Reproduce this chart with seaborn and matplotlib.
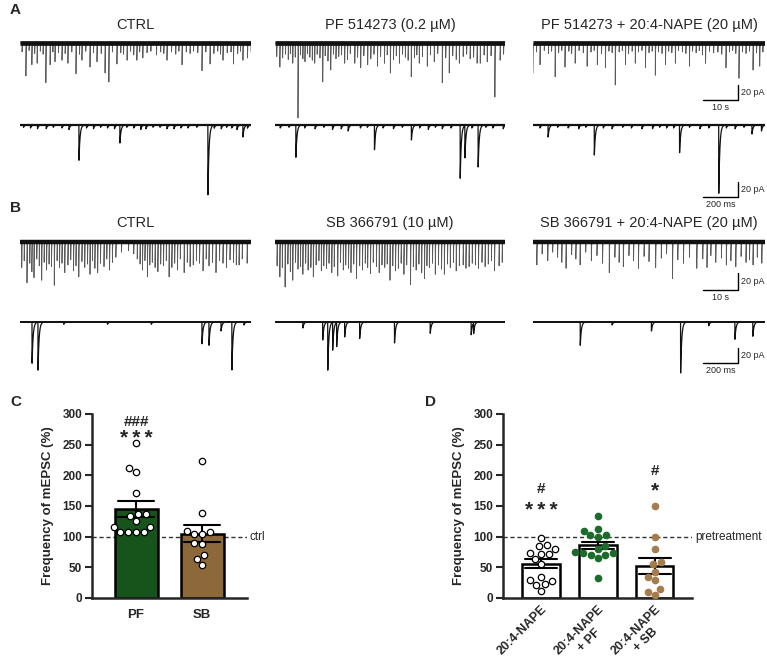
import numpy as np
import pandas as pd
import seaborn as sns
import matplotlib
matplotlib.use('Agg')
import matplotlib.pyplot as plt

# ---------------- dati: tracce (eventi = tempo, ampiezza in pA) ----------------
# riga A, tracce lunghe (s)
a_ctrl_long_t = [0.6, 1.7, 2.6, 3.4, 4.2, 4.9, 5.8, 6.6, 7.4, 8.6, 9.4, 10.0, 11.0, 12.0, 12.9, 13.7, 14.8, 16.0, 17.0, 17.7,
                 18.8, 20.0, 21.0, 22.0, 23.2, 24.3, 25.4, 26.4, 27.7, 28.8, 29.6, 30.6, 31.6, 32.5, 33.4, 34.2, 35.1, 36.3, 37.4, 39.0,
                 40.2, 41.1, 42.0, 43.3, 44.5, 45.4, 46.3, 47.5, 48.6, 49.6, 50.8, 52.0, 53.1, 54.3, 55.4, 56.5, 57.3, 58.0, 59.2, 60.3,
                 61.0, 62.2, 63.0, 63.7, 65.0, 66.0]
a_ctrl_long_a = [12, 44, 10, 29, 14, 27, 11, 15, 53, 29, 12, 25, 13, 23, 14, 27, 12, 41, 15, 23,
                 11, 32, 13, 25, 14, 40, 52, 12, 28, 13, 15, 23, 11, 16, 23, 12, 20, 13, 11, 16,
                 12, 14, 23, 12, 15, 11, 29, 12, 14, 11, 13, 37, 12, 28, 14, 11, 15, 23, 13, 12,
                 28, 14, 11, 23, 20, 12]
a_pf_long_t = [0.5, 1.4, 2.2, 3.0, 3.8, 4.4, 5.1, 5.8, 6.6, 7.3, 8.0, 8.6, 9.3, 10.0, 10.7, 11.4, 12.1, 12.9, 13.7, 14.4,
               15.2, 16.0, 16.8, 17.5, 18.3, 19.1, 20.0, 20.8, 21.6, 22.9, 23.7, 24.6, 25.5, 26.6, 27.5, 28.4, 29.4, 30.3, 31.4, 32.2,
               33.1, 34.0, 34.8, 35.7, 36.6, 37.4, 38.2, 39.1, 40.0, 40.7, 41.4, 42.3, 43.7, 44.6, 45.7, 46.7, 48.0, 49.0, 50.0, 51.0,
               52.0, 52.9, 54.0, 55.0, 56.0, 57.0, 58.0, 58.9, 60.0, 60.9, 62.0, 63.1, 64.6, 65.6]
a_pf_long_a = [18, 32, 20, 15, 22, 14, 27, 19, 100, 16, 21, 25, 14, 19, 23, 27, 15, 20, 52, 17,
               24, 36, 15, 21, 18, 16, 27, 22, 14, 27, 19, 33, 17, 29, 21, 15, 31, 18, 27, 16,
               40, 22, 17, 27, 15, 19, 23, 45, 20, 16, 27, 18, 31, 16, 25, 14, 53, 20, 40, 17,
               22, 27, 18, 15, 21, 19, 27, 27, 16, 25, 17, 72, 23, 15]
a_nape_long_t = [0.0, 1.0, 2.0, 3.2, 4.4, 5.3, 6.3, 7.3, 8.2, 9.1, 10.2, 11.0, 12.0, 13.1, 14.3, 15.4, 16.5, 17.4, 18.3, 19.5,
                 20.6, 21.6, 22.5, 23.4, 24.5, 25.4, 26.3, 27.2, 28.2, 29.1, 30.0, 31.0, 32.0, 33.0, 33.9, 34.8, 35.7, 36.7, 37.7, 38.6,
                 39.5, 40.5, 41.4, 42.5, 43.5, 44.5, 45.4, 46.4, 47.3, 48.2, 49.1, 50.2, 51.4, 52.6, 53.7, 54.9, 55.9, 56.8, 57.7, 58.6,
                 59.6, 60.6, 61.6, 62.6, 63.6, 64.5, 65.4]
a_nape_long_a = [40, 12, 29, 10, 14, 11, 45, 13, 10, 32, 11, 14, 27, 10, 13, 31, 12, 10, 29, 14,
                 33, 11, 13, 56, 12, 10, 29, 14, 11, 27, 12, 10, 33, 13, 11, 43, 12, 14, 29, 11,
                 13, 27, 10, 12, 14, 31, 11, 13, 10, 16, 27, 11, 13, 12, 15, 33, 12, 10, 14, 47,
                 12, 14, 11, 36, 13, 31, 12]

# riga A, tracce corte (ms)
a_ctrl_short_t = [20, 60, 100, 150, 190, 240, 280, 337, 380, 420, 460, 500, 540, 571, 610, 650, 690, 720, 760, 800,
                  840, 880, 920, 960, 1010, 1074, 1110, 1150, 1180, 1210, 1240, 1274, 1300]
a_ctrl_short_a = [3, 4, 5, 5, 3, 4, 6, 47, 4, 5, 3, 4, 5, 24, 3, 4, 6, 5, 3, 3,
                  5, 5, 4, 4, 3, 93, 4, 5, 3, 4, 6, 16, 4]
a_pf_short_t = [30, 80, 120, 170, 230, 280, 330, 380, 420, 490, 530, 571, 620, 680, 730, 783, 830, 880, 920, 960,
                1010, 1063, 1090, 1130, 1166, 1210, 1250, 1310]
a_pf_short_a = [4, 3, 43, 4, 5, 3, 6, 5, 8, 4, 3, 33, 4, 5, 3, 20, 4, 6, 3, 5,
                4, 71, 43, 4, 56, 3, 4, 5]
a_nape_short_t = [40, 86, 140, 200, 260, 300, 349, 400, 450, 510, 560, 620, 680, 720, 760, 800, 834, 890, 950, 1000,
                  1057, 1100, 1150, 1200, 1246, 1300]
a_nape_short_a = [4, 16, 3, 4, 5, 3, 40, 4, 5, 3, 4, 5, 5, 3, 4, 4, 37, 3, 5, 4,
                  91, 4, 5, 3, 12, 8]

# riga B, tracce lunghe (s)
b_ctrl_long_t = [0.5, 1.2, 2.0, 2.8, 3.4, 4.0, 4.8, 5.5, 6.2, 6.9, 7.6, 8.3, 9.0, 9.8, 10.6, 11.3, 12.0, 12.8, 13.7, 14.5,
                 15.3, 16.0, 16.8, 17.7, 18.5, 19.3, 20.0, 20.7, 21.4, 22.2, 23.0, 24.0, 24.8, 25.6, 26.4, 27.4, 29.0, 31.0, 32.5, 33.5,
                 34.3, 35.0, 35.7, 36.4, 37.1, 37.8, 38.6, 39.4, 40.2, 41.0, 41.8, 42.6, 43.4, 44.2, 45.0, 45.8, 46.9, 47.8, 48.6, 49.5,
                 50.4, 51.3, 52.3, 53.2, 54.0, 55.0, 56.0, 57.0, 58.0, 59.0, 60.0, 61.0, 61.8, 62.6, 63.5, 64.9]
b_ctrl_long_a = [30, 22, 48, 25, 35, 42, 20, 28, 45, 24, 33, 26, 29, 51, 22, 30, 25, 36, 27, 21,
                 34, 28, 41, 23, 30, 26, 38, 22, 31, 36, 25, 29, 20, 33, 24, 18, 12, 10, 14, 20,
                 26, 33, 22, 41, 27, 24, 30, 35, 26, 28, 22, 41, 30, 25, 33, 20, 36, 24, 29, 27,
                 22, 25, 34, 20, 28, 24, 36, 22, 25, 30, 21, 24, 27, 27, 20, 25]
b_sb_long_t = [0.6, 1.4, 2.1, 2.9, 3.7, 4.4, 5.1, 5.9, 6.6, 7.3, 8.0, 8.8, 9.5, 10.3, 11.0, 11.8, 12.6, 13.3, 14.0, 14.8,
               15.5, 16.3, 17.0, 18.0, 18.8, 19.6, 20.3, 21.1, 21.8, 22.6, 23.4, 24.3, 25.1, 25.9, 26.6, 27.4, 28.2, 29.1, 29.9, 30.7,
               31.5, 32.2, 33.0, 33.8, 34.6, 35.4, 36.2, 37.0, 37.8, 38.9, 39.7, 40.5, 41.3, 42.1, 42.9, 43.6, 44.3, 45.2, 46.0, 46.9,
               47.8, 48.6, 49.5, 50.3, 51.2, 52.0, 52.9, 54.0, 54.8, 55.7, 56.6, 57.5, 58.4, 59.4, 60.3, 61.2, 62.1, 63.0, 64.3, 65.2]
b_sb_long_a = [28, 41, 30, 53, 26, 35, 45, 24, 32, 29, 38, 25, 33, 30, 41, 27, 22, 34, 28, 31,
               25, 36, 29, 40, 24, 33, 27, 31, 36, 26, 43, 28, 33, 25, 30, 37, 24, 29, 36, 27,
               30, 26, 45, 28, 34, 31, 25, 38, 27, 50, 29, 33, 26, 36, 43, 28, 30, 25, 38, 27,
               32, 38, 26, 30, 24, 34, 28, 27, 31, 29, 25, 27, 31, 24, 29, 26, 22, 34, 28, 24]
b_nape_long_t = [1.1, 2.6, 4.2, 5.6, 7.0, 8.2, 9.4, 11.0, 12.2, 13.4, 15.0, 16.6, 18.2, 19.8, 21.7, 23.3, 24.5, 25.7, 27.3, 28.6,
                 30.0, 31.6, 33.0, 34.9, 36.5, 38.0, 39.7, 41.2, 42.8, 44.5, 46.6, 48.3, 49.5, 50.6, 52.0, 53.6, 55.0, 56.3, 57.7, 59.2,
                 60.6, 61.6, 62.6, 63.8, 65.1]
b_nape_long_a = [27, 14, 22, 12, 18, 24, 31, 15, 20, 27, 12, 22, 16, 25, 36, 18, 24, 29, 16, 22,
                 31, 17, 23, 30, 19, 14, 43, 21, 25, 18, 31, 20, 30, 16, 24, 19, 27, 22, 29, 17,
                 24, 21, 27, 18, 25]

# riga B, tracce corte (ms)
b_ctrl_short_t = [69, 103, 250, 500, 750, 1040, 1080, 1149, 1211, 1280]
b_ctrl_short_a = [55, 64, 3, 3, 3, 29, 31, 12, 64, 4]
b_sb_short_t = [160, 274, 303, 331, 354, 400, 486, 686, 891, 1126, 1140]
b_sb_short_a = [8, 24, 64, 37, 32, 20, 22, 28, 15, 17, 14]
b_nape_short_t = [269, 450, 674, 840, 1000, 1149, 1251]
b_nape_short_a = [31, 4, 12, 68, 5, 23, 19]

titoli_A = ['CTRL', 'PF 514273 (0.2 µM)', 'PF 514273 + 20:4-NAPE (20 µM)']
titoli_B = ['CTRL', 'SB 366791 (10 µM)', 'SB 366791 + 20:4-NAPE (20 µM)']

# ---------------- dati: pannelli C e D (%) ----------------
gruppi_C = ['PF', 'SB']
pf_vals = [253, 212, 205, 172, 137, 133, 137, 125, 115, 115, 107, 107, 107, 107]
sb_vals = [223, 138, 107, 110, 104, 104, 88, 90, 70, 63, 53]

gruppi_D = ['20:4-NAPE', '20:4-NAPE\n+ PF', '20:4-NAPE\n+ SB']
nape_vals = [98, 87, 84, 80, 72, 72, 73, 63, 55, 35, 30, 27, 23, 22, 12]
nape_pf_vals = [133, 113, 110, 103, 102, 100, 85, 80, 75, 73, 73, 70, 70, 65, 33]
nape_sb_vals = [150, 100, 80, 58, 55, 43, 35, 30, 15, 10, 5]

verde = '#0d5e14'
marrone = '#9a6a2c'
verde_p = '#1d6b2c'
marrone_p = '#a57c4b'

# ---------------- figura ----------------
sns.set_style('ticks')
plt.rcParams['font.family'] = ['Liberation Sans', 'DejaVu Sans']

W, H = 767, 669
fig = plt.figure(figsize=(W / 100, H / 100), dpi=100)


def px_axes(x0, y0, x1, y1):
    return fig.add_axes([x0 / W, 1 - y1 / H, (x1 - x0) / W, (y1 - y0) / H])


def px_text(x, y, s, **kw):
    fig.text(x / W, 1 - y / H, s, **kw)


def build_trace(times, amps, dur, step, tau):
    t = np.arange(0, dur + step / 2, step)
    y = np.zeros_like(t)
    for ti, ai in zip(times, amps):
        dt = t - ti
        m = dt >= -1e-9
        y[m] -= ai * np.exp(-np.clip(dt[m], 0, None) / tau)
    return t, y


colonne = [(20, 251), (275, 505), (533, 765)]

righe = [
    # base px, px per pA, durata, passo, tau, colore, lw, lw base, eventi
    dict(base=43, ppa=0.75, dur=66, step=0.02, tau=0.06, col='#5a5a5a', lw=0.6, blw=3.4,
         ev=[(a_ctrl_long_t, a_ctrl_long_a), (a_pf_long_t, a_pf_long_a), (a_nape_long_t, a_nape_long_a)],
         bar=(738, 100, 10, '10 s')),
    dict(base=125, ppa=0.75, dur=1320, step=0.5, tau=6, col='#111111', lw=0.9, blw=1.6,
         ev=[(a_ctrl_short_t, a_ctrl_short_a), (a_pf_short_t, a_pf_short_a), (a_nape_short_t, a_nape_short_a)],
         bar=(738, 197, 200, '200 ms')),
    dict(base=242, ppa=0.85, dur=66, step=0.02, tau=0.06, col='#5a5a5a', lw=0.6, blw=3.2,
         ev=[(b_ctrl_long_t, b_ctrl_long_a), (b_sb_long_t, b_sb_long_a), (b_nape_long_t, b_nape_long_a)],
         bar=(738, 290, 10, '10 s')),
    dict(base=322, ppa=0.75, dur=1320, step=0.5, tau=6, col='#111111', lw=0.9, blw=1.4,
         ev=[(b_ctrl_short_t, b_ctrl_short_a), (b_sb_short_t, b_sb_short_a), (b_nape_short_t, b_nape_short_a)],
         bar=(738, 363, 200, '200 ms')),
]

for r in righe:
    for (x0, x1), (tt, aa) in zip(colonne, r['ev']):
        ax = px_axes(x0, r['base'] - 12, x1, r['base'] + 90)
        t, y = build_trace(tt, aa, r['dur'], r['step'], r['tau'])
        ax.plot(t, y, color=r['col'], lw=r['lw'])
        ax.plot([0, r['dur']], [0, 0], color='#111111', lw=r['blw'], solid_capstyle='butt')
        ax.set_xlim(0, r['dur'])
        ax.set_ylim(-90 / r['ppa'], 12 / r['ppa'])
        ax.axis('off')
    # barra di scala nella terza colonna
    xe, ye, tlen, tlab = r['bar']
    c0, c1 = colonne[2]
    xb1 = (xe - c0) / (c1 - c0) * r['dur']
    xb0 = xb1 - tlen
    yb = (r['base'] - ye) / r['ppa']
    ax.plot([xb0, xb1, xb1], [yb, yb, yb + 20], color='black', lw=1, clip_on=False)
    ax.text(xb1 + 0.012 * r['dur'], yb + 10, '20 pA', fontsize=6.5, ha='left', va='center')
    ax.text((xb0 + xb1) / 2, yb - 3 / r['ppa'], tlab, fontsize=6.5, ha='center', va='top')

for (x0, x1), s in zip(colonne, titoli_A):
    px_text((x0 + x1) / 2, 25, s, fontsize=10.5, ha='center', va='center')
for (x0, x1), s in zip(colonne, titoli_B):
    px_text((x0 + x1) / 2, 223, s, fontsize=10.5, ha='center', va='center')

px_text(10, 10, 'A', fontsize=11, fontweight='bold', ha='left', va='center')
px_text(10, 208, 'B', fontsize=11, fontweight='bold', ha='left', va='center')
px_text(10, 402, 'C', fontsize=11, fontweight='bold', ha='left', va='center')
px_text(425, 402, 'D', fontsize=11, fontweight='bold', ha='left', va='center')


def stile_asse(ax):
    sns.despine(ax=ax)
    for s in ['left', 'bottom']:
        ax.spines[s].set_linewidth(1.8)
    ax.set_ylim(0, 300)
    ax.set_yticks([0, 50, 100, 150, 200, 250, 300])
    ax.tick_params(axis='y', length=5, width=1.5, labelsize=8.5, pad=2)
    ax.tick_params(axis='x', length=0, labelsize=9.5, pad=8)
    for lab in ax.get_yticklabels() + ax.get_xticklabels():
        lab.set_fontweight('bold')
    ax.set_xlabel('')
    ax.set_ylabel('Frequency of mEPSC (%)', fontsize=9.5, fontweight='bold', labelpad=6)
    ax.axhline(100, color='#333333', ls=(0, (3, 2)), lw=1, zorder=0.5)


stelle3 = '*\u2009*\u2009*'

# ---------------- pannello C ----------------
dfC = pd.DataFrame({'gruppo': ['PF'] * len(pf_vals) + ['SB'] * len(sb_vals),
                    'valore': pf_vals + sb_vals})
axC = px_axes(92, 414, 247, 598)
sns.barplot(data=dfC, x='gruppo', y='valore', hue='gruppo', order=gruppi_C, palette=[verde, marrone],
            errorbar='se', capsize=0.55, width=0.65, edgecolor='black', linewidth=1.8,
            err_kws={'color': 'black', 'linewidth': 1.5}, legend=False, ax=axC)
sns.swarmplot(data=dfC, x='gruppo', y='valore', order=gruppi_C, color='white', edgecolor='black',
              linewidth=0.9, size=4.6, ax=axC)
axC.set_xlim(-0.667, 1.68)
stile_asse(axC)
axC.text(1.72, 100, 'ctrl', fontsize=8.5, ha='left', va='center')
axC.text(0, 281, '###', fontsize=11, fontweight='bold', ha='center', va='baseline')
axC.text(0, 251, stelle3, fontsize=15, fontweight='bold', ha='center', va='baseline',
         family=['Liberation Sans', 'DejaVu Sans'])

# ---------------- pannello D ----------------
dfD = pd.DataFrame({'gruppo': [gruppi_D[0]] * len(nape_vals) + [gruppi_D[1]] * len(nape_pf_vals)
                    + [gruppi_D[2]] * len(nape_sb_vals),
                    'valore': nape_vals + nape_pf_vals + nape_sb_vals})
axD = px_axes(503, 414, 692, 598)
sns.barplot(data=dfD, x='gruppo', y='valore', order=gruppi_D, color='white',
            errorbar='se', capsize=0.55, width=0.65, edgecolor='black', linewidth=1.8,
            err_kws={'color': 'black', 'linewidth': 1.5}, ax=axD)
for g, fc, ec in zip(gruppi_D, ['white', verde_p, marrone_p], ['black', verde_p, marrone_p]):
    sns.swarmplot(data=dfD[dfD['gruppo'] == g], x='gruppo', y='valore', order=gruppi_D, color=fc,
                  edgecolor=ec, linewidth=0.9, size=4.6, ax=axD)
axD.set_xlim(-0.667, 2.65)
stile_asse(axD)
axD.set_xticks(range(3))
axD.set_xticklabels(gruppi_D, rotation=45, ha='right', rotation_mode='anchor',
                    fontsize=9, fontweight='bold', multialignment='center')
axD.tick_params(axis='x', pad=4)
axD.text(2.7, 100, 'pretreatment', fontsize=8.5, ha='left', va='center')
axD.text(0, 172, '#', fontsize=11, fontweight='bold', ha='center', va='baseline')
axD.text(0, 134, stelle3, fontsize=15, fontweight='bold', ha='center', va='baseline',
         family=['Liberation Sans', 'DejaVu Sans'])
axD.text(2, 201, '#', fontsize=11, fontweight='bold', ha='center', va='baseline')
axD.text(2, 166, '*', fontsize=15, fontweight='bold', ha='center', va='baseline')

fig.savefig('out.png', dpi=100)
